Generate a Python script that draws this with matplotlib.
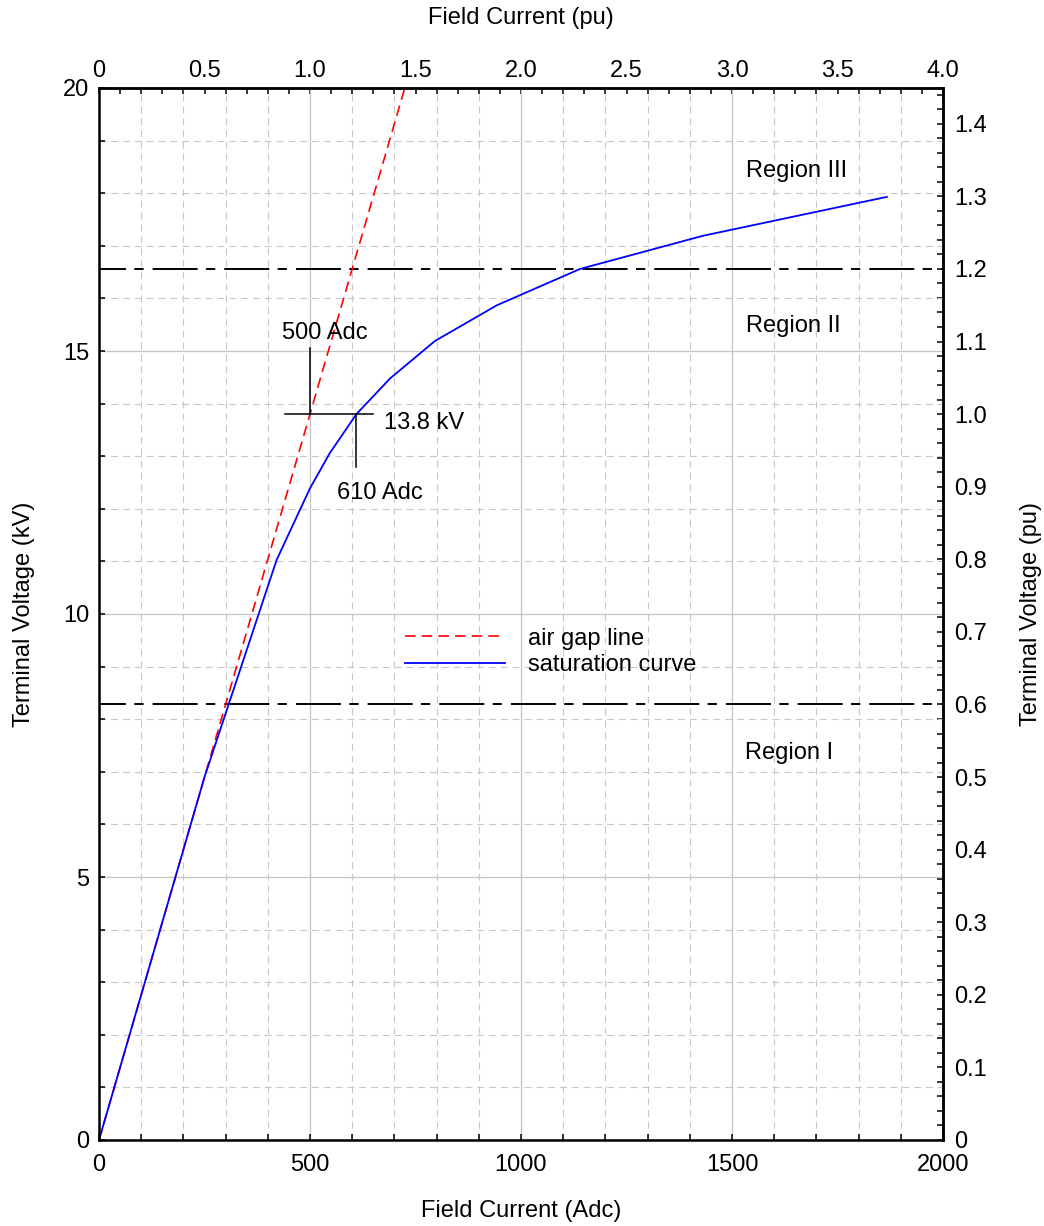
import numpy as np
import matplotlib
matplotlib.use("Agg")
import matplotlib.pyplot as plt
from matplotlib.ticker import MultipleLocator, FuncFormatter

plt.rcParams['font.family'] = ['Liberation Sans', 'DejaVu Sans']
plt.rcParams['lines.scale_dashes'] = False

# ---- data ----
airgap_adc = [0, 724.6]
airgap_kv = [0, 20.0]
sat_adc = [0, 250, 421, 500, 547, 610, 690, 796, 943, 1140, 1431, 1867]
sat_kv = [0, 6.9, 11.03, 12.39, 13.06, 13.8, 14.48, 15.19, 15.87, 16.56, 17.19, 17.93]
rated_kv = 13.8
region_limits_pu = [0.6, 1.2]
region_labels = ["Region I", "Region II", "Region III"]
region_label_x = [1635, 1645, 1652]
region_label_y = [7.36, 15.48, 18.42]
airgap_at_rated = 500
sat_at_rated = 610

fig = plt.figure(figsize=(10.44, 12.26), dpi=100)
ax = fig.add_axes([99/1044, 86/1226, (943-99)/1044, (1140-88)/1226])

ax.set_xlim(0, 2000)
ax.set_ylim(0, 20)

fs = 17
# grid
ax.xaxis.set_major_locator(MultipleLocator(500))
ax.xaxis.set_minor_locator(MultipleLocator(100))
ax.yaxis.set_major_locator(MultipleLocator(5))
ax.yaxis.set_minor_locator(MultipleLocator(1))
ax.grid(which='major', color='#c4c4c4', ls='-', lw=0.9)
ax.grid(which='minor', color='#c8c8c8', ls=(0, (5, 3.5)), lw=0.8)
ax.set_axisbelow(True)

# lines
l1, = ax.plot(airgap_adc, airgap_kv, color='red', lw=1.2, ls=(0, (7.6, 4.4)),
              label='air gap line')
l2, = ax.plot(sat_adc, sat_kv, color='blue', lw=1.3, label='saturation curve')

for pu in region_limits_pu:
    ax.axhline(pu * rated_kv, color='black', lw=1.4,
               ls=(13, (32.4, 6.0, 6.7, 6.5)), zorder=1.5)

# annotations at rated voltage
ax.plot([441, 649], [rated_kv, rated_kv], color='black', lw=1.1)
ax.plot([airgap_at_rated, airgap_at_rated], [rated_kv, 15.06], color='black', lw=1.1)
ax.plot([sat_at_rated, sat_at_rated], [12.8, rated_kv], color='black', lw=1.1)
ax.text(536, 15.34, f"{airgap_at_rated} Adc", ha='center', va='center', fontsize=fs)
ax.text(666, 12.3, f"{sat_at_rated} Adc", ha='center', va='center', fontsize=fs)
ax.text(770, 13.63, f"{rated_kv} kV", ha='center', va='center', fontsize=fs)

for lab, x, y in zip(region_labels, region_label_x, region_label_y):
    ax.text(x, y, lab, ha='center', va='center', fontsize=fs)

# legend
leg = ax.legend(handles=[l1, l2], loc='upper left', bbox_to_anchor=(0.363, 0.487),
                frameon=False, fontsize=fs, handlelength=4.2, handletextpad=1.0,
                labelspacing=0.2, borderpad=0, borderaxespad=0)

# spines / ticks
for s in ax.spines.values():
    s.set_linewidth(1.8)
ax.tick_params(axis='x', which='both', direction='in', length=4, width=1.1, labelsize=fs,
               top=False, pad=10)
ax.tick_params(axis='y', which='both', direction='in', length=4, width=1.1, labelsize=fs,
               right=False, pad=7)
ax.set_xlabel("Field Current (Adc)", fontsize=fs, labelpad=17)
ax.set_ylabel("Terminal Voltage (kV)", fontsize=fs, labelpad=20)

# top secondary axis (pu)
top = ax.secondary_xaxis('top', functions=(lambda x: x / 500, lambda x: x * 500))
top.set_xticks(np.arange(0, 4.01, 0.5))
top.xaxis.set_minor_locator(MultipleLocator(0.1))
top.xaxis.set_major_formatter(FuncFormatter(lambda v, p: "0" if abs(v) < 1e-9 else f"{v:.1f}"))
top.tick_params(which='both', direction='in', length=4, width=1.1, labelsize=fs, pad=4)
top.spines['top'].set_linewidth(1.8)
top.set_xlabel("Field Current (pu)", fontsize=fs, labelpad=26)

# right secondary axis (pu)
right = ax.secondary_yaxis('right', functions=(lambda y: y / rated_kv, lambda y: y * rated_kv))
right.set_yticks(np.arange(0, 1.41, 0.1))
right.yaxis.set_minor_locator(MultipleLocator(0.02))
right.yaxis.set_major_formatter(FuncFormatter(lambda v, p: "0" if abs(v) < 1e-9 else f"{v:.1f}"))
right.tick_params(which='both', direction='in', length=4, width=1.1, labelsize=fs, pad=8)
right.spines['right'].set_linewidth(1.8)
right.set_ylabel("Terminal Voltage (pu)", fontsize=fs, labelpad=24)

fig.savefig("out.png", dpi=100)
